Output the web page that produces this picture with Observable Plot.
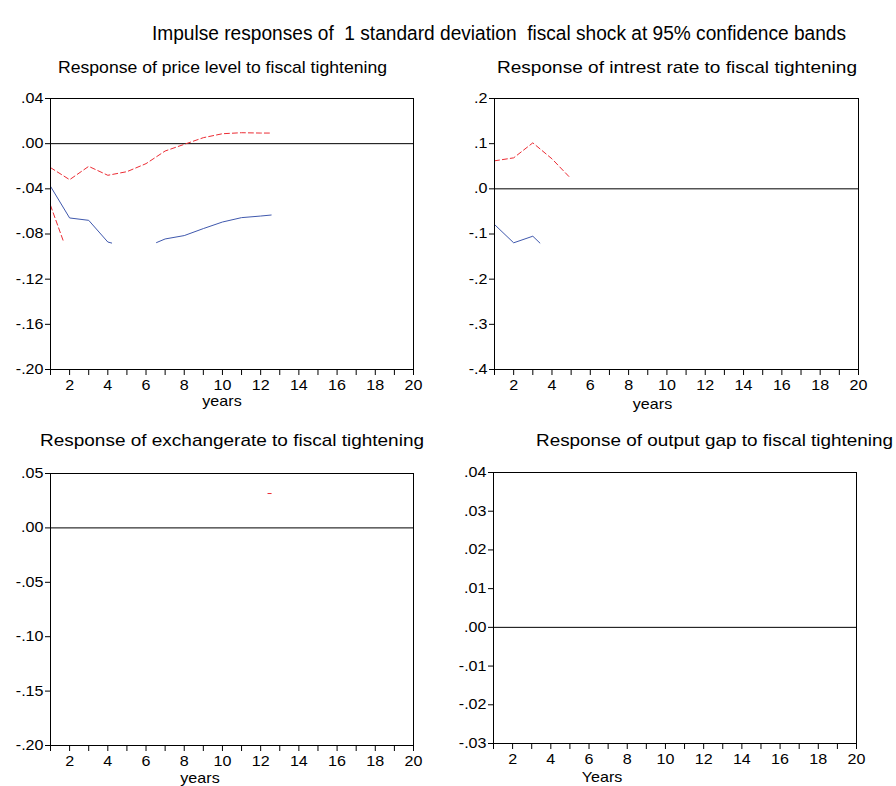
<!DOCTYPE html>
<html>
<head>
<meta charset="utf-8">
<script src="https://cdn.jsdelivr.net/npm/d3@7"></script>
<script src="https://cdn.jsdelivr.net/npm/@observablehq/plot@0.6"></script>
<style>
  html, body { margin: 0; padding: 0; background: #fff; }
  #root { position: relative; width: 896px; height: 786px; overflow: hidden; font-family: "Liberation Sans", Arial, sans-serif; color: #000; }
  .t { position: absolute; white-space: pre; transform-origin: 0 50%; }
  .panel { position: absolute; }
</style>
</head>
<body>
<div id="root"></div>
<script>
// ---------- data ----------
const mainTitle = "Impulse responses of  1 standard deviation  fiscal shock at 95% confidence bands";
const panelTitles = [
  "Response of price level to fiscal tightening",
  "Response of intrest rate to fiscal tightening",
  "Response of exchangerate to fiscal tightening",
  "Response of output gap to fiscal tightening"
];
const axisLabels = ["years", "years", "years", "Years"];
const xTicks = d3.range(1, 21);

// price level
const priceIrfX   = [1, 2, 3, 4, 4.2, 5.4, 6.55, 7, 8, 9, 10, 11, 12, 12.55];
const priceIrf    = [-0.0378, -0.0658, -0.0679, -0.0871, -0.088, NaN, -0.0876, -0.0844, -0.0814, -0.0752, -0.0694, -0.0655, -0.0641, -0.0632];
const priceUpX    = [1, 2, 3, 4, 5, 6, 7, 8, 9, 10, 11, 12, 12.55];
const priceUp     = [-0.0212, -0.0319, -0.0201, -0.028, -0.0248, -0.0177, -0.0065, -0.0006, 0.0053, 0.0088, 0.0097, 0.0094, 0.0094];
const priceLoX    = [1, 1.7];
const priceLo     = [-0.0546, -0.0876];
const priceTicks  = [0.04, 0, -0.04, -0.08, -0.12, -0.16, -0.20];

// interest rate
const rateIrfX    = [1, 2, 3, 3.37];
const rateIrf     = [-0.079, -0.1195, -0.1049, -0.120];
const rateUpX     = [1, 2, 3, 4, 4.92];
const rateUp      = [0.062, 0.0686, 0.1018, 0.0664, 0.0257];
const rateTicks   = [0.2, 0.1, 0, -0.1, -0.2, -0.3, -0.4];

// exchange rate
const exchUpX     = [12.38, 12.55];
const exchUp      = [0.0316, 0.0316];
const exchTicks   = [0.05, 0, -0.05, -0.10, -0.15, -0.20];

// output gap
const outTicks    = [0.04, 0.03, 0.02, 0.01, 0, -0.01, -0.02, -0.03];

const blue = "#3f58ad";
const red = "#ec2c34";
const STRETCH = 1.15; // the reference chart text is horizontally stretched

function pts(xs, ys) { return xs.map((x, i) => ({x, y: ys[i]})); }
function fmt(dec) { return d => { let s = d.toFixed(dec); if (Math.abs(d) < 1e-9) s = (0).toFixed(dec); return s.replace("0.", "."); }; }

const root = document.getElementById("root");

// text placed from left edge x0 to right edge x1, centred vertically at cy
function addText(txt, x0, x1, cy, size) {
  const d = document.createElement("div");
  d.className = "t";
  d.textContent = txt;
  d.style.fontSize = size + "px";
  d.style.lineHeight = size + "px";
  d.style.left = x0 + "px";
  d.style.top = (cy - size / 2) + "px";
  root.appendChild(d);
  const w = d.getBoundingClientRect().width;
  d.style.transform = `scaleX(${(x1 - x0) / w})`;
}

addText(mainTitle, 152, 846, 33, 20);
addText(panelTitles[0], 58, 387, 67, 17);
addText(panelTitles[1], 497, 857, 67, 17);
addText(panelTitles[2], 40, 424, 440, 17);
addText(panelTitles[3], 536, 893, 440, 17);

// widen the glyphs of the chart texts horizontally, keeping their anchors in place
function stretchText(svg) {
  svg.querySelectorAll("text").forEach(t => {
    const xa = t.getAttribute("x");
    if (xa != null) {
      const xv = parseFloat(xa);
      if (!isNaN(xv) && /^-?[\d.]+(e-?\d+)?$/.test(xa.trim())) t.setAttribute("x", xv / STRETCH);
      else return;
    }
    const tr = t.getAttribute("transform") || "";
    t.setAttribute("transform", `${tr} scale(${STRETCH},1)`.trim());
  });
}

function panel(cfg) {
  const marks = [
    Plot.ruleY([0], {stroke: "#000", strokeWidth: 1}),
    ...cfg.series.map(s => Plot.line(pts(s.x, s.y), {
      x: "x", y: "y", stroke: s.color, strokeWidth: 1,
      strokeDasharray: s.dash ? "5,3" : null
    })),
    Plot.axisY({ticks: cfg.ticks, tickFormat: fmt(cfg.dec), tickSize: 5, tickPadding: 2, fontSize: 14, label: null}),
    Plot.axisX({ticks: xTicks, tickFormat: d => d % 2 === 0 ? String(d) : "", tickSize: 6, tickPadding: 5, fontSize: 14, label: null}),
    Plot.frame({stroke: "#000", strokeWidth: 1}),
    Plot.text([cfg.xlabel], {frameAnchor: "bottom", dx: cfg.ldx, dy: cfg.ldy, fontSize: 14, fill: "#000"})
  ];
  const p = Plot.plot({
    width: cfg.width, height: cfg.height,
    marginLeft: 50, marginRight: cfg.mr, marginTop: 10, marginBottom: cfg.mb,
    x: {domain: [1, 20], axis: null},
    y: {domain: cfg.domain, axis: null},
    style: {fontFamily: "Liberation Sans, Arial, sans-serif", fontSize: "13px", color: "#000", background: "transparent", overflow: "visible"},
    marks
  });
  stretchText(p);
  const wrap = document.createElement("div");
  wrap.className = "panel";
  wrap.style.left = cfg.left + "px";
  wrap.style.top = cfg.top + "px";
  wrap.appendChild(p);
  root.appendChild(wrap);
}

panel({left: 0, top: 88, width: 440, height: 326, mr: 27, mb: 45, domain: [-0.20, 0.04], ticks: priceTicks, dec: 2,
  xlabel: axisLabels[0], ldx: -10, ldy: 36,
  series: [
    {x: priceIrfX, y: priceIrf, color: blue, dash: false},
    {x: priceUpX, y: priceUp, color: red, dash: true},
    {x: priceLoX, y: priceLo, color: red, dash: true}
  ]});

panel({left: 444, top: 88, width: 452, height: 326, mr: 38, mb: 45, domain: [-0.4, 0.2], ticks: rateTicks, dec: 1,
  xlabel: axisLabels[1], ldx: -24, ldy: 39,
  series: [
    {x: rateIrfX, y: rateIrf, color: blue, dash: false},
    {x: rateUpX, y: rateUp, color: red, dash: true}
  ]});

panel({left: 0, top: 463, width: 440, height: 323, mr: 27, mb: 41, domain: [-0.20, 0.05], ticks: exchTicks, dec: 2,
  xlabel: axisLabels[2], ldx: -32, ldy: 37,
  series: [
    {x: exchUpX, y: exchUp, color: red, dash: false}
  ]});

panel({left: 443, top: 462, width: 452, height: 322, mr: 39, mb: 41, domain: [-0.03, 0.04], ticks: outTicks, dec: 2,
  xlabel: axisLabels[3], ldx: -73, ldy: 38,
  series: []});
</script>
</body>
</html>
